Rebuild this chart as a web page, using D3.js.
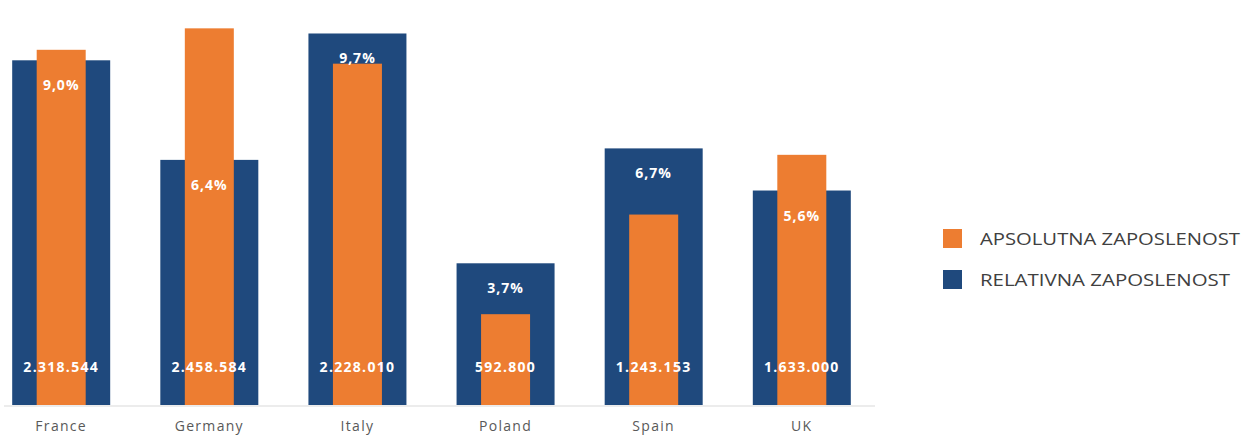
<!DOCTYPE html>
<html><head><meta charset="utf-8">
<script src="https://cdn.jsdelivr.net/npm/d3@7"></script>
<style>body{margin:0;background:#fff}svg{display:block}</style>
</head><body>
<svg id="c" width="1245" height="438"></svg>
<script>
const categories = ["France","Germany","Italy","Poland","Spain","UK"];
const relative = [9.0, 6.4, 9.7, 3.7, 6.7, 5.6];
const absolute = [2318544, 2458584, 2228010, 592800, 1243153, 1633000];
const seriesNames = ["APSOLUTNA ZAPOSLENOST","RELATIVNA ZAPOSLENOST"];
const colors = {abs:"#ed7d31", rel:"#1f497d"};

const svg = d3.select("#c");
const x = d3.scaleBand().domain(categories).range([-12.5, 875.5]).paddingInner(0.335).paddingOuter(0.165);
const yRel = d3.scaleLinear().domain([0,10]).range([405,22]);
const yAbs = d3.scaleLinear().domain([0,2500000]).range([405,22]);
const fmtPct = v => d3.format(".1f")(v).replace(".", ",") + "%";
const fmtAbs = v => d3.format(",")(v).replace(/,/g, ".");
const font = "'Open Sans', Lato, sans-serif";

// axis
svg.append("line").attr("x1",4).attr("x2",875).attr("y1",406).attr("y2",406)
  .attr("stroke","#d9d9d9").attr("stroke-width",1);

const bw = 98, ow = 49;
const g = svg.append("g");
categories.forEach((c,i)=>{
  const cx = x(c) + x.bandwidth()/2;
  g.append("rect").attr("x",cx-bw/2).attr("width",bw)
    .attr("y",yRel(relative[i])).attr("height",yRel(0)-yRel(relative[i])).attr("fill",colors.rel);
  g.append("rect").attr("x",cx-ow/2).attr("width",ow)
    .attr("y",yAbs(absolute[i])).attr("height",yAbs(0)-yAbs(absolute[i])).attr("fill",colors.abs);
  g.append("text").attr("x",cx).attr("y",yRel(relative[i])+30)
    .attr("text-anchor","middle").attr("fill","#fff").attr("font-family",font)
    .attr("font-weight","bold").attr("font-size",14).attr("letter-spacing","1px").text(fmtPct(relative[i]));
  g.append("text").attr("x",cx).attr("y",372)
    .attr("text-anchor","middle").attr("fill","#fff").attr("font-family",font)
    .attr("font-weight","bold").attr("font-size",14).attr("letter-spacing","1.3px").text(fmtAbs(absolute[i]));
  g.append("text").attr("x",cx).attr("y",431)
    .attr("text-anchor","middle").attr("fill","#595959").attr("font-family",font)
    .attr("font-size",14).attr("letter-spacing","1.3px").text(c);
});

// legend
const leg = svg.append("g");
[[seriesNames[0],colors.abs,229,260],[seriesNames[1],colors.rel,270,250]].forEach(([t,col,y,len])=>{
  leg.append("rect").attr("x",943).attr("y",y).attr("width",19).attr("height",19).attr("fill",col);
  leg.append("text").attr("x",980).attr("y",y+16).attr("fill","#404040")
    .attr("font-family",font).attr("font-size",17)
    .attr("textLength",len).attr("lengthAdjust","spacingAndGlyphs").text(t);
});
</script>
</body></html>
